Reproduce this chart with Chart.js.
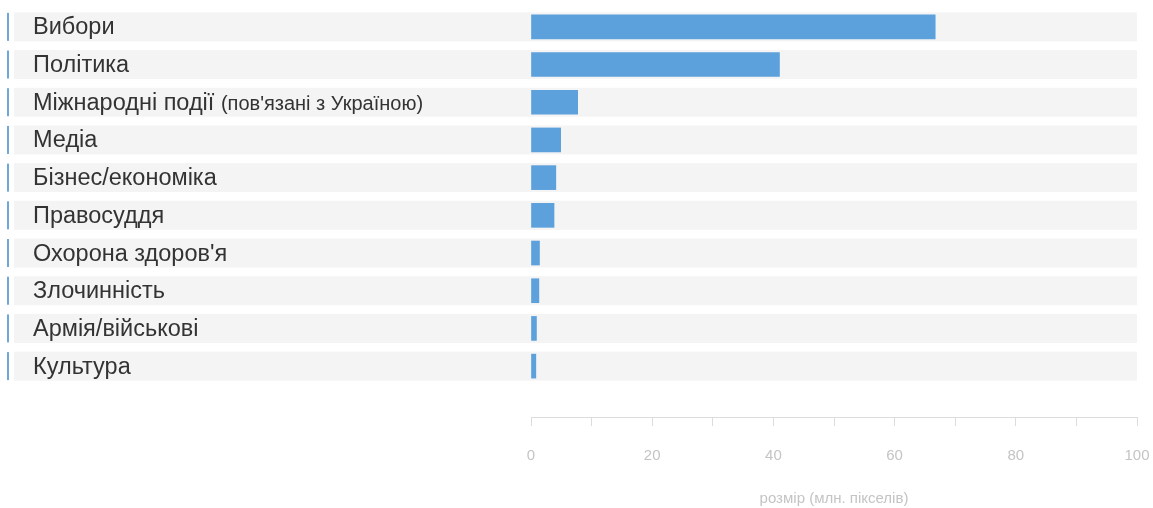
<!DOCTYPE html>
<html>
<head>
<meta charset="utf-8">
<script src="https://cdn.jsdelivr.net/npm/chart.js@4"></script>
<style>
  html, body { margin: 0; padding: 0; background: #fff; }
  #wrap { width: 1153px; height: 508px; }
</style>
</head>
<body>
<div id="wrap"><canvas id="chart"></canvas></div>
<script>
// topics, ordered as in the picture
const topics = [
  "Вибори",
  "Політика",
  "Міжнародні події",
  "Медіа",
  "Бізнес/економіка",
  "Правосуддя",
  "Охорона здоров'я",
  "Злочинність",
  "Армія/військові",
  "Культура"
];
// small grey note after a topic name
const topicNotes = ["", "", "(пов'язані з Україною)", "", "", "", "", "", "", ""];
// size, million pixels
const sizes = [66.7, 41.0, 7.7, 4.9, 4.1, 3.8, 1.4, 1.3, 0.9, 0.8];
const axisTitle = "розмір (млн. пікселів)";

const BAR = "#5ca0dc";
const BAND = "#f4f4f4";
const MARK = "#6fa7d6";
const FONT = "'Liberation Sans', Arial, sans-serif";

// row bands, blue markers and topic names (left of the plot area)
const rowsPlugin = {
  id: "rows",
  beforeDatasetsDraw(chart) {
    const { ctx, chartArea, scales } = chart;
    const y = scales.y;
    ctx.save();
    topics.forEach((t, i) => {
      const yc = y.getPixelForValue(i);
      ctx.fillStyle = BAND;
      ctx.fillRect(14, yc - 14.5, chartArea.right - 14, 29);
      ctx.fillStyle = MARK;
      ctx.fillRect(7, yc - 14, 2, 28);
    });
    ctx.restore();
  },
  afterDatasetsDraw(chart) {
    const { ctx, scales } = chart;
    const y = scales.y;
    ctx.save();
    ctx.textBaseline = "middle";
    ctx.fillStyle = "#333";
    topics.forEach((t, i) => {
      const yc = y.getPixelForValue(i) + 1;
      ctx.font = "23.5px " + FONT;
      ctx.fillText(t, 33, yc);
      if (topicNotes[i]) {
        const w = ctx.measureText(t + " ").width;
        ctx.font = "20px " + FONT;
        ctx.fillText(topicNotes[i], 33 + w, yc + 1);
      }
    });
    ctx.restore();
  }
};

new Chart(document.getElementById("chart"), {
  type: "bar",
  data: {
    datasets: [{
      data: sizes.map((v, i) => ({ x: v, y: i })),
      backgroundColor: BAR,
      barThickness: 24,
      borderWidth: 0
    }]
  },
  options: {
    indexAxis: "y",
    responsive: true,
    maintainAspectRatio: false,
    animation: false,
    layout: { padding: { left: 531, right: 0, top: 8, bottom: 0 } },
    plugins: { legend: { display: false }, tooltip: { enabled: false } },
    scales: {
      y: {
        type: "linear",
        display: false,
        offset: false,
        reverse: true,
        min: -0.5,
        max: 10.35
      },
      x: {
        type: "linear",
        min: 0,
        max: 100,
        border: { display: true, color: "#dcdcdc", width: 1 },
        grid: { drawOnChartArea: false, drawTicks: true, tickLength: 9, color: "#dcdcdc" },
        ticks: {
          stepSize: 10,
          autoSkip: false,
          maxRotation: 0,
          padding: 21,
          color: "#c4c4c4",
          font: { family: FONT, size: 15 },
          callback: (v) => (v % 20 === 0 ? v : "")
        },
        title: {
          display: true,
          text: axisTitle,
          color: "#c4c4c4",
          font: { family: FONT, size: 15 },
          padding: { top: 4, bottom: 0 }
        },
        // leave only room for half of the "100" label on the right
        afterFit(scale) {
          scale.paddingRight = 16;
        }
      }
    }
  },
  plugins: [rowsPlugin]
});
</script>
</body>
</html>
